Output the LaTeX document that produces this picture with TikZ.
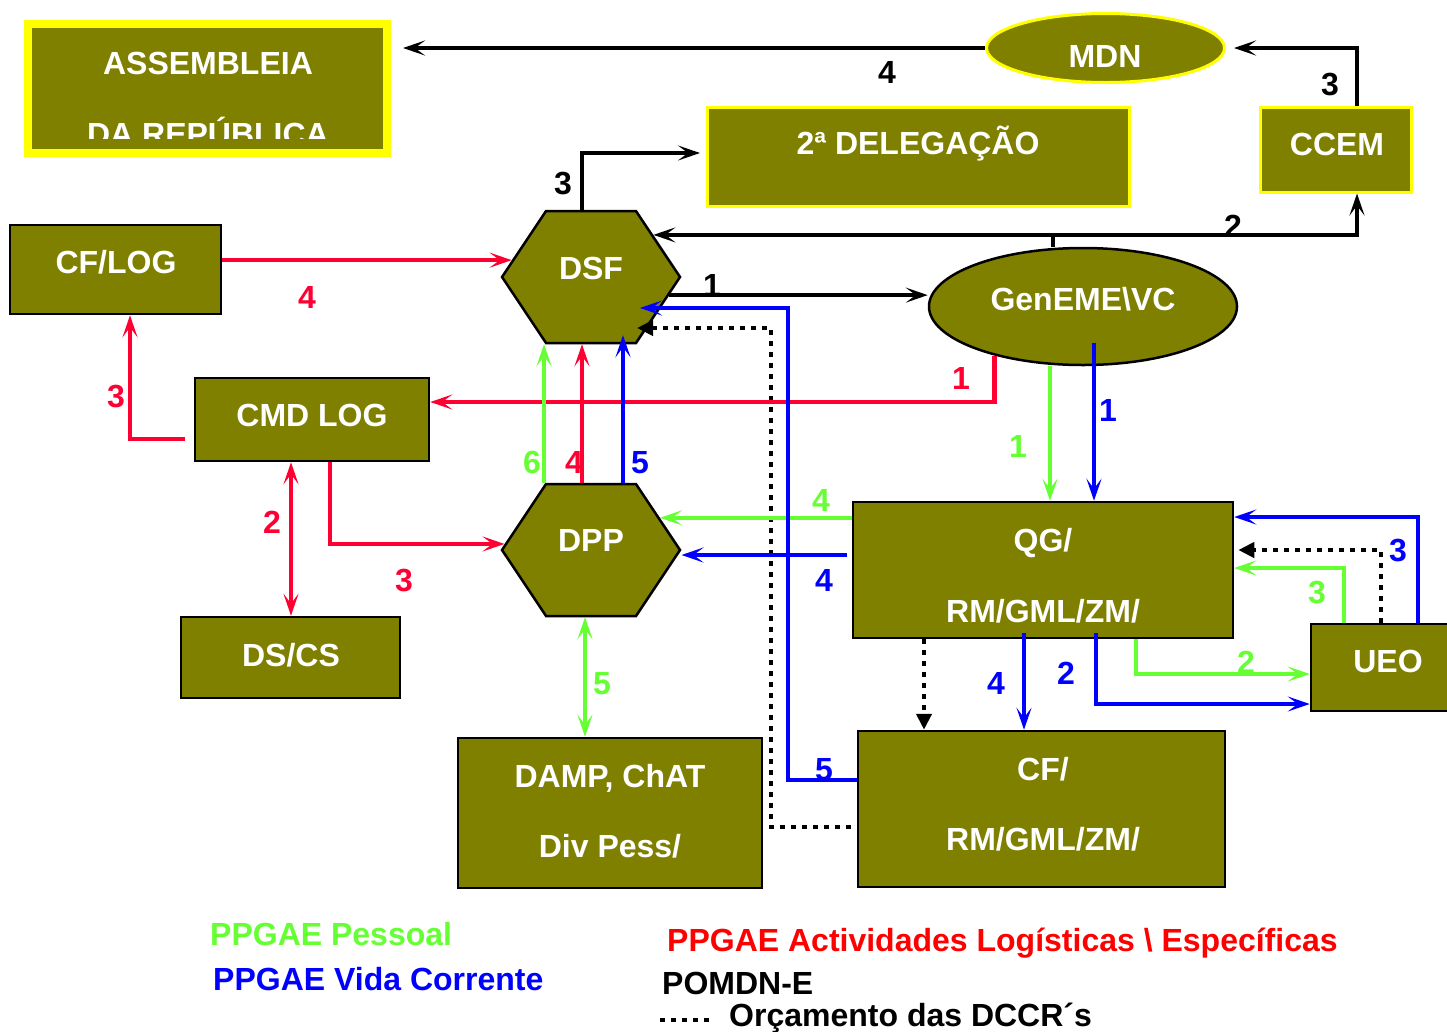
\documentclass[tikz,border=0pt]{standalone}
\usepackage{fontspec}
\setmainfont{Liberation Sans}
\usetikzlibrary{arrows.meta, shapes.geometric, shapes.symbols}

\newcommand{\unitfont}{\fontsize{32}{34}\selectfont\bfseries}

\definecolor{unitolive}{RGB}{128,128,0}
\definecolor{chiefyellow}{RGB}{255,255,0}
\definecolor{persgreen}{RGB}{102,255,51}
\definecolor{logred}{RGB}{255,0,51}
\definecolor{legred}{RGB}{255,0,0}
\definecolor{lifeblue}{RGB}{0,0,255}

\tikzset{
    unit/.style={rectangle, draw=black, line width=2.5pt, fill=unitolive, inner sep=0pt},
    chief/.style={unit, draw=chiefyellow, line width=3pt},
    hexa/.style={signal, signal to=east and west, signal pointer angle=112.6,
        draw=black, line width=2.5pt, fill=unitolive, inner sep=0pt,
        minimum width=178pt, minimum height=132pt},
    unitlabel/.style={text=white, font=\unitfont, inner sep=0pt, text height=23pt, text depth=0pt},
    flowno/.style={font=\unitfont, inner sep=0pt, text height=23pt, text depth=0pt},
    cmdline/.style={line width=4pt, black, ->},
    logline/.style={line width=4.5pt, logred, ->},
    persline/.style={line width=4.5pt, persgreen, ->},
    lifeline/.style={line width=4.5pt, lifeblue, ->},
    dotted line/.style={line width=4.5pt, black, dash pattern=on 4.5pt off 6.5pt},
    budgetline/.style={dotted line, -{Triangle[length=16pt,width=15pt]}}
}

\begin{document}
\begin{tikzpicture}[x=1pt, y=-1pt, >={Stealth[length=22pt,width=15pt,inset=10pt]}]
    \useasboundingbox (0,0) rectangle (1447,1031);
    \fill[white] (0,0) rectangle (1447,1031);

    % units
    \node[chief, line width=8pt, minimum width=359pt, minimum height=129pt] (ar) at (207.5,88.5) {};
    \node[chief, ellipse, minimum width=238pt, minimum height=69pt] (mdn) at (1105.5,48) {};
    \node[chief, minimum width=422pt, minimum height=99pt] (deleg) at (918.5,157) {};
    \node[chief, minimum width=151pt, minimum height=85pt] (ccem) at (1336,149.5) {};
    \node[unit, minimum width=211pt, minimum height=89pt] (cflog) at (115.5,269.5) {};
    \node[unit, minimum width=234pt, minimum height=83pt] (cmdlog) at (312,419.5) {};
    \node[unit, minimum width=219pt, minimum height=81pt] (dscs) at (290.5,657.5) {};
    \node[unit, ellipse, minimum width=308pt, minimum height=117pt] (genv) at (1083,306.5) {};
    \node[unit, minimum width=380pt, minimum height=136pt] (qg) at (1043,570) {};
    \node[unit, minimum width=149pt, minimum height=87pt] (ueo) at (1385.5,667.5) {};
    \node[unit, minimum width=367pt, minimum height=156pt] (cf) at (1041.5,809) {};
    \node[unit, minimum width=304pt, minimum height=150pt] (damp) at (610,813) {};
    \node[hexa] (dsf) at (591,277) {};
    \node[hexa] (dpp) at (591,550) {};

    % POMDN-E
    \draw[cmdline, shorten >=12pt] (mdn.west) -- (mdn.west -| ar.east);
    \draw[cmdline, shorten >=8pt] ([xshift=21pt]ccem.north) |- (mdn.east);
    \draw[cmdline] ([xshift=-30pt]genv.north) -- ++(0,-12) -| ([xshift=21pt]ccem.south);
    \draw[cmdline] ([xshift=-30pt]genv.north) |- (dsf.34);
    \draw[cmdline, shorten >=6pt] ([xshift=-9pt]dsf.north) |- ([yshift=4pt]deleg.west);
    \draw[cmdline] (dsf.-13) -- (dsf.-13 -| genv.west);

    % budget
    \draw[budgetline] (924,0 |- qg.south) -- (924,0 |- cf.north);
    \draw[budgetline, shorten >=4pt] (1381,0 |- ueo.north) |- (qg.east |- 0,550);
    \draw[budgetline, shorten <=6pt] (cf.west |- 0,827) -| (771,328) -- ([xshift=46pt,yshift=-51pt]dsf.center);

    % logistics
    \draw[logline] (cflog.east |- dsf.168) -- (dsf.168);
    \draw[logline, shorten <=9pt] (cmdlog.west |- 0,439) -| (130,0 |- cflog.south);
    \draw[logline] (genv.209) |- (cmdlog.east |- 0,402);
    \draw[logline, <->] (291,0 |- cmdlog.south) -- (291,0 |- dscs.north);
    \draw[logline] (330,0 |- cmdlog.south) |- (dpp.176);
    \draw[logline] (582,0 |- dpp.north) -- (582,0 |- dsf.south);

    % personnel
    \draw[persline] (544,0 |- dpp.north) -- (544,0 |- dsf.south);
    \draw[persline] (1050,0 |- genv.south) -- (1050,0 |- qg.north);
    \draw[persline] (qg.west |- dpp.25) -- (dpp.25);
    \draw[persline, <->] (585,0 |- dpp.south) -- (585,0 |- damp.north);
    \draw[persline] (1344,0 |- ueo.north) |- (qg.east |- 0,568);
    \draw[persline] (1136,0 |- qg.south) |- (ueo.west |- 0,674);

    % current life
    \draw[lifeline, shorten >=-9pt] (623,0 |- dpp.north) -- (623,0 |- dsf.south);
    \draw[lifeline] ([xshift=11pt,yshift=-36pt]genv.center) -- (1094,0 |- qg.north);
    \draw[lifeline, shorten <=5pt] (qg.west |- 0,555) -- (dpp.east |- 0,555);
    \draw[lifeline] (cf.west |- 0,780) -| (788,308) -- ([xshift=49pt,yshift=-31pt]dsf.center);
    \draw[lifeline] (1418,0 |- ueo.north) |- (qg.east |- 0,517);
    \draw[lifeline, shorten <=-6pt] (1024,0 |- qg.south) -- (1024,0 |- cf.north);
    \draw[lifeline, shorten <=-6pt] (1096,0 |- qg.south) |- (ueo.west |- 0,704);

    % flow numbers
    \node[flowno] (c4) at (887,72) {4};
    \node[flowno] (c3a) at (1330,84) {3};
    \node[flowno] (c2) at (1233,226) {2};
    \node[flowno] (c3b) at (563,183) {3};
    \node[flowno] (c1) at (712,285) {1};
    \node[flowno, logred] (l4a) at (307,297) {4};
    \node[flowno, logred] (l3a) at (116,396) {3};
    \node[flowno, logred] (l1) at (961,378) {1};
    \node[flowno, logred] (l2) at (272,522) {2};
    \node[flowno, logred] (l3b) at (404,580) {3};
    \node[flowno, logred] (l4b) at (574,462) {4};
    \node[flowno, persgreen] (p6) at (532,462) {6};
    \node[flowno, persgreen] (p1) at (1018,446) {1};
    \node[flowno, persgreen] (p4) at (821,500) {4};
    \node[flowno, persgreen] (p5) at (602,683) {5};
    \node[flowno, persgreen] (p3) at (1317,592) {3};
    \node[flowno, persgreen] (p2) at (1246,662) {2};
    \node[flowno, lifeblue] (v5a) at (640,462) {5};
    \node[flowno, lifeblue] (v1) at (1108,410) {1};
    \node[flowno, lifeblue] (v4a) at (824,580) {4};
    \node[flowno, lifeblue] (v5b) at (824,769) {5};
    \node[flowno, lifeblue] (v3) at (1398,550) {3};
    \node[flowno, lifeblue] (v4b) at (996,683) {4};
    \node[flowno, lifeblue] (v2) at (1066,673) {2};

    % unit names
    \node[unitlabel] (t-ar) at (208,63) {ASSEMBLEIA};
    \begin{scope}
        \clip (32,100) rectangle (383,138);
        \node[unitlabel] (t-ar2) at (208,134) {DA REPÚBLICA};
    \end{scope}
    \node[unitlabel] (t-mdn) at (1105,56) {MDN};
    \node[unitlabel] (t-deleg) at (918,143) {2ª DELEGAÇÃO};
    \node[unitlabel] (t-ccem) at (1337,144) {CCEM};
    \node[unitlabel] (t-cflog) at (116,262) {CF/LOG};
    \node[unitlabel] (t-dsf) at (591,268) {DSF};
    \node[unitlabel] (t-genv) at (1083,299) {GenEME\textbackslash VC};
    \node[unitlabel] (t-cmdlog) at (312,415) {CMD LOG};
    \node[unitlabel] (t-dpp) at (591,540) {DPP};
    \node[unitlabel] (t-dscs) at (291,655) {DS/CS};
    \node[unitlabel] (t-qg) at (1043,540) {QG/};
    \node[unitlabel] (t-qg2) at (1043,611) {RM/GML/ZM/};
    \node[unitlabel] (t-ueo) at (1388,661) {UEO};
    \node[unitlabel] (t-cf) at (1043,769) {CF/};
    \node[unitlabel] (t-cf2) at (1043,839) {RM/GML/ZM/};
    \node[unitlabel] (t-damp) at (610,776) {DAMP, ChAT};
    \node[unitlabel] (t-damp2) at (610,846) {Div Pess/};

    % legend
    \node[flowno, persgreen, anchor=west] (lg-pers) at (210,934) {PPGAE Pessoal};
    \node[flowno, lifeblue, anchor=west] (lg-life) at (213,979) {PPGAE Vida Corrente};
    \node[flowno, legred, anchor=west] (lg-log) at (667,940) {PPGAE Actividades Logísticas \textbackslash{} Específicas};
    \node[flowno, anchor=west] (lg-cmd) at (662,983) {POMDN-E};
    \draw[dotted line] (660,1020) -- (710,1020);
    \node[flowno, anchor=west] (lg-budget) at (729,1015) {Orçamento das DCCR´s};
\end{tikzpicture}
\end{document}
